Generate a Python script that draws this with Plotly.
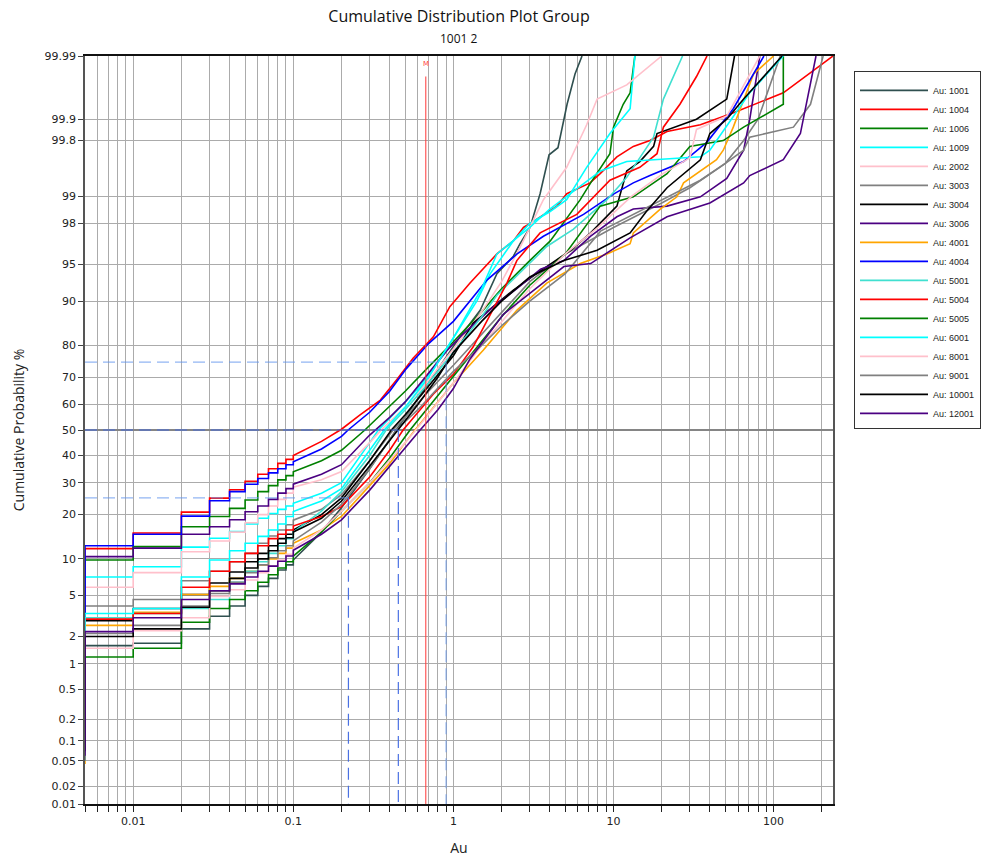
import math
from statistics import NormalDist
import plotly.graph_objects as go

# ---------------- data ----------------
names = ["Au: 1001", "Au: 1004", "Au: 1006", "Au: 1009", "Au: 2002", "Au: 3003",
         "Au: 3004", "Au: 3006", "Au: 4001", "Au: 4004", "Au: 5001", "Au: 5004",
         "Au: 5005", "Au: 6001", "Au: 8001", "Au: 9001", "Au: 10001", "Au: 12001"]
colors = ["#2F4F4F", "#FF0000", "#008000", "#00FFFF", "#FFC0CB", "#808080",
          "#000000", "#4B0082", "#FFA500", "#0000FF", "#40E0D0", "#FF0000",
          "#008000", "#00FFFF", "#FFC0CB", "#808080", "#000000", "#4B0082"]

# discrete low assay values (ties produce the staircase)
low_x = [0.005, 0.01, 0.02, 0.03, 0.04, 0.05, 0.06, 0.07, 0.08, 0.09, 0.1]

# first plotted probability (%) of each series at the lowest value
start_p = [0.2, 0.1, 0.15, 0.1, 0.15, 0.1, 0.056, 0.08, 0.045, 0.08, 0.05, 0.1,
           0.5, 0.1, 0.2, 0.05, 0.07, 0.06]

# cumulative % at each low_x value
low_1001 = [1.6, 1.7, 2.4, 3.2, 4.0, 5.0, 6.0, 7.0, 8.2, 9.0, 9.8]
low_1004 = [11.9, 15.3, 20.7, 24.9, 27.6, 30.5, 33.0, 35.0, 37.0, 38.5, 40.0]
low_1006 = [9.8, 12.3, 16.8, 19.5, 21.8, 24.3, 27.0, 29.0, 31.0, 32.5, 33.9]
low_1009 = [7.2, 8.7, 12.2, 14.1, 15.6, 17.5, 19.0, 20.3, 21.5, 22.5, 23.3]
low_2002 = [5.9, 7.8, 11.3, 13.5, 15.5, 17.8, 20.0, 22.5, 24.5, 26.5, 28.5]
low_3003 = [4.0, 4.6, 6.7, 8.0, 9.5, 11.0, 13.0, 14.6, 16.0, 17.3, 18.5]
low_3004 = [2.9, 3.8, 5.1, 6.4, 7.9, 9.5, 11.0, 12.5, 14.0, 15.0, 16.0]
low_3006 = [10.4, 12.0, 15.0, 16.8, 18.6, 20.8, 22.5, 24.5, 26.5, 28.0, 29.5]
low_4001 = [2.6, 3.5, 5.1, 6.0, 7.0, 8.0, 9.0, 10.0, 11.0, 12.0, 13.0]
low_4004 = [12.5, 15.0, 19.6, 24.1, 27.0, 29.5, 31.5, 33.5, 35.0, 36.5, 37.6]
low_5001 = [3.1, 3.4, 3.8, 4.6, 6.5, 8.0, 9.5, 11.0, 12.5, 14.0, 15.5]
low_5004 = [3.0, 3.4, 5.9, 8.0, 9.5, 11.0, 12.5, 14.0, 15.0, 16.0, 17.0]
low_5005 = [1.2, 1.5, 2.8, 3.8, 4.6, 5.5, 6.5, 7.5, 8.5, 9.5, 10.5]
low_6001 = [3.4, 3.8, 7.2, 9.8, 11.5, 13.0, 14.5, 16.0, 17.5, 19.5, 20.9]
low_8001 = [1.5, 2.3, 3.1, 4.9, 5.6, 6.8, 7.8, 8.8, 9.8, 10.8, 12.0]
low_9001 = [2.15, 2.6, 4.0, 5.2, 6.5, 7.8, 9.0, 10.2, 11.5, 12.5, 13.5]
low_10001 = [2.0, 2.4, 3.9, 5.5, 7.0, 8.5, 10.0, 11.5, 13.0, 14.2, 15.5]
low_12001 = [2.25, 3.1, 4.6, 5.5, 6.3, 7.2, 8.0, 8.8, 9.6, 10.5, 11.6]

# upper part: Au value and cumulative %
x_1001 = [0.15, 0.2, 0.3, 0.42, 0.5, 0.7, 1.1, 1.47, 1.87, 2.37, 2.61, 3.01, 3.48, 3.96, 4.5, 5.13, 5.75, 6.36]
p_1001 = [15.5, 22, 35, 48, 55, 68, 82.3, 88.3, 94.0, 95.8, 96.8, 97.8, 99.06, 99.69, 99.75, 99.94, 99.98, 99.99]
x_1004 = [0.15, 0.2, 0.26, 0.35, 0.44, 0.56, 0.75, 0.95, 1.27, 1.87, 2.37, 2.74, 3.16, 4.43, 5.11, 7.14, 8.26, 10.5, 13.3, 16.9, 21.6, 34.9, 56.2, 115, 235]
p_1004 = [45.5, 50.3, 55.9, 61.7, 69.0, 76.2, 82.3, 89.0, 92.8, 96.0, 97.0, 97.8, 98.1, 98.7, 99.06, 99.3, 99.46, 99.67, 99.76, 99.80, 99.85, 99.88, 99.92, 99.96, 99.99]
x_1006 = [0.15, 0.2, 0.28, 0.35, 0.5, 0.7, 1.0, 1.5, 2.0, 3.0, 4.03, 6.2, 7.2, 9.5, 10.0, 11.5, 12.7, 13.6]
p_1006 = [38, 42, 50, 56, 65, 73.5, 81, 88, 92, 95.4, 97.0, 98.9, 99.3, 99.70, 99.87, 99.94, 99.96, 99.99]
x_1009 = [0.15, 0.2, 0.3, 0.34, 0.45, 0.6, 0.8, 1.0, 1.4, 1.7, 2.37, 3.0, 4.0, 5.1, 6.8, 9.5, 12.7, 13.6]
p_1009 = [26.5, 30, 45, 50, 58, 66, 75, 82, 90, 94, 97.0, 98.0, 98.5, 98.9, 99.55, 99.84, 99.93, 99.99]
x_2002 = [0.15, 0.2, 0.3, 0.36, 0.5, 0.7, 1.0, 1.5, 2.0, 2.6, 3.65, 5.1, 6.8, 7.9, 12.1, 20.0]
p_2002 = [31, 34, 45, 50.5, 59, 69, 79, 88, 93, 96.5, 98.9, 99.55, 99.88, 99.95, 99.97, 99.99]
x_3003 = [0.15, 0.2, 0.3, 0.42, 0.5, 0.7, 1.0, 1.5, 2.0, 3.0, 5.0, 10.0, 20.0, 30.0, 50.0, 65.0, 80.0, 110.0]
p_3003 = [21.5, 26, 38, 50, 55, 65, 74, 83, 88, 93, 96, 97.8, 98.8, 99.2, 99.6, 99.8, 99.9, 99.99]
x_3004 = [0.15, 0.2, 0.3, 0.41, 0.5, 0.7, 1.0, 1.33, 2.37, 3.48, 5.4, 7.2, 10.5, 12.1, 14.6, 17.8, 18.7, 33.0, 51.0, 57.0]
p_3004 = [20, 25, 38, 50, 56, 67, 77, 85.6, 91.8, 94.3, 96.3, 97.5, 98.7, 99.5, 99.62, 99.76, 99.84, 99.9, 99.95, 99.99]
x_3006 = [0.15, 0.2, 0.3, 0.4, 0.5, 0.8, 0.91, 1.15, 1.78, 2.49, 3.5, 4.9, 7.2, 10.5, 13.3, 21.6, 34.9, 51.0, 65.0, 71.0, 82.0]
p_3006 = [33, 36.5, 48, 55, 61, 75, 78.5, 83, 89, 92, 94.5, 95.4, 97.3, 98.3, 98.6, 98.7, 98.98, 99.38, 99.73, 99.9, 99.99]
x_4001 = [0.15, 0.2, 0.3, 0.4, 0.5, 0.576, 0.8, 1.0, 1.54, 2.49, 3.83, 6.2, 9.1, 12.7, 13.3, 19.6, 24.9, 27.4, 44.0, 48.5, 56.0, 65.0, 75.0, 100.0]
p_4001 = [16, 19.5, 29, 37, 45, 50, 61, 68, 78.7, 88.3, 92.8, 95.1, 96.0, 96.8, 97.5, 98.6, 98.98, 99.3, 99.64, 99.73, 99.87, 99.95, 99.98, 99.99]
x_4004 = [0.15, 0.2, 0.22, 0.3, 0.4, 0.51, 0.7, 1.0, 1.62, 2.5, 3.65, 6.5, 10.0, 13.3, 16.9, 27.4, 38.4, 56.0, 87.0]
p_4004 = [42.5, 47.5, 50, 57, 65, 73, 80.5, 86, 93.2, 96.0, 97.3, 98.4, 99.05, 99.3, 99.43, 99.62, 99.79, 99.93, 99.99]
x_5001 = [0.15, 0.2, 0.3, 0.38, 0.5, 0.7, 1.0, 1.5, 1.87, 3.0, 3.83, 5.6, 9.1, 12.1, 17.8, 20.5, 27.0]
p_5001 = [21, 27, 40, 50, 58, 68, 78, 87, 91, 95.2, 96.6, 97.7, 98.9, 99.4, 99.82, 99.95, 99.99]
x_5004 = [0.15, 0.2, 0.3, 0.4, 0.485, 0.75, 1.0, 1.33, 2.16, 2.49, 3.48, 5.9, 9.5, 14.6, 18.7, 20.5, 26.0, 33.0, 38.4]
p_5004 = [19.5, 22.3, 32, 42, 50, 64, 71, 79.6, 92.8, 95.4, 97.5, 98.4, 99.35, 99.55, 99.70, 99.87, 99.94, 99.978, 99.99]
x_5005 = [0.15, 0.2, 0.3, 0.4, 0.536, 0.7, 1.0, 1.5, 2.0, 3.0, 5.0, 8.26, 13.3, 21.6, 30.0, 48.5, 65.0, 115.0, 115.0]
p_5005 = [15.5, 21, 30, 39, 50, 59, 70, 81, 87, 92.5, 96, 98.7, 98.98, 99.46, 99.76, 99.80, 99.87, 99.94, 99.99]
x_6001 = [0.15, 0.2, 0.3, 0.37, 0.5, 0.7, 1.0, 1.5, 1.87, 3.0, 4.0, 5.5, 8.3, 12.1, 21.6, 34.9, 40.0, 56.0, 71.0, 115.0]
p_6001 = [24, 28, 42, 50, 59, 70, 82, 92, 96, 97.8, 98.6, 99.1, 99.5, 99.62, 99.65, 99.67, 99.73, 99.91, 99.96, 99.99]
x_8001 = [0.15, 0.2, 0.3, 0.4, 0.5, 0.6, 0.8, 1.0, 1.5, 2.0, 3.0, 5.0, 8.0, 13.0, 20.0, 30.0, 33.0, 51.0, 82.0]
p_8001 = [16, 21, 30, 38, 45, 51, 61, 68, 80, 86, 92, 96, 97.8, 99.0, 99.45, 99.66, 99.86, 99.91, 99.99]
x_9001 = [0.15, 0.2, 0.3, 0.44, 0.6, 0.8, 1.0, 1.5, 2.0, 3.0, 5.0, 8.3, 13.3, 21.6, 34.9, 51.0, 65.0, 71.0, 133.0, 170.0, 204.0]
p_9001 = [18, 23, 35, 50, 58, 66, 72, 80, 85, 90, 94, 97.6, 98.4, 98.98, 99.35, 99.61, 99.73, 99.82, 99.87, 99.94, 99.99]
x_10001 = [0.15, 0.2, 0.3, 0.45, 0.6, 0.8, 1.0, 1.5, 2.0, 3.0, 4.9, 7.9, 12.7, 16.0, 21.6, 34.9, 40.0, 51.0, 65.0, 113.0]
p_10001 = [19, 24, 36, 50, 60, 70, 78, 86, 90, 93.6, 95.4, 96.3, 97.5, 98.5, 99.2, 99.64, 99.84, 99.9, 99.95, 99.99]
x_12001 = [0.15, 0.2, 0.3, 0.4, 0.5, 0.62, 0.8, 1.0, 1.27, 1.47, 2.05, 3.0, 4.9, 7.2, 12.7, 21.6, 40.0, 65.0, 71.0, 115.0, 147.0, 184.0]
p_12001 = [15, 18.6, 27.5, 36, 43, 50, 58, 66, 76, 80, 87.5, 91.3, 94.8, 95.1, 97.2, 98.3, 98.8, 99.3, 99.43, 99.64, 99.84, 99.99]

low_all = [low_1001, low_1004, low_1006, low_1009, low_2002, low_3003, low_3004, low_3006, low_4001,
           low_4004, low_5001, low_5004, low_5005, low_6001, low_8001, low_9001, low_10001, low_12001]
hx_all = [x_1001, x_1004, x_1006, x_1009, x_2002, x_3003, x_3004, x_3006, x_4001,
          x_4004, x_5001, x_5004, x_5005, x_6001, x_8001, x_9001, x_10001, x_12001]
hp_all = [p_1001, p_1004, p_1006, p_1009, p_2002, p_3003, p_3004, p_3006, p_4001,
          p_4004, p_5001, p_5004, p_5005, p_6001, p_8001, p_9001, p_10001, p_12001]

# probability axis ticks
y_ticks = [0.01, 0.02, 0.05, 0.1, 0.2, 0.5, 1, 2, 5, 10, 20, 30, 40, 50, 60, 70, 80, 90, 95, 98, 99, 99.8, 99.9, 99.99]
y_labels = ["0.01", "0.02", "0.05", "0.1", "0.2", "0.5", "1", "2", "5", "10", "20", "30", "40", "50",
            "60", "70", "80", "90", "95", "98", "99", "99.8", "99.9", "99.99"]
x_ticks = [0.01, 0.1, 1, 10, 100]
x_labels = ["0.01", "0.1", "1", "10", "100"]
x_range = [0.005, 235]

# reference statistics
q_pcts = [25, 50, 75]
q_vals = [0.221, 0.453, 0.90]
mean_val = 0.672
mean_top_p = 99.978

# ---------------- figure ----------------
ND = NormalDist()


def zp(p):
    return ND.inv_cdf(p / 100.0)


ZMIN, ZMAX = zp(0.01), zp(99.99)

fig = go.Figure()

for name, col, p0, low, hx, hp in zip(names, colors, start_p, low_all, hx_all, hp_all):
    X = [low_x[0]]
    P = [p0]
    prev = None
    for xv, pv in zip(low_x, low):
        if prev is not None:
            X.append(xv)
            P.append(prev)
        X.append(xv)
        P.append(pv)
        prev = pv
    X += hx
    P += hp
    fig.add_trace(go.Scatter(x=X, y=[zp(p) for p in P], mode="lines", name=name,
                             line=dict(color=col, width=1.6), hoverinfo="skip"))

# quartile guide lines (horizontal part, vertical part)
light_blue = "rgba(100,149,237,0.7)"
dark_blue = "rgba(65,105,225,0.95)"
h_cols = [light_blue, dark_blue, light_blue]
v_cols = [dark_blue, dark_blue, light_blue]
for qp, qv, hc, vc in zip(q_pcts, q_vals, h_cols, v_cols):
    fig.add_trace(go.Scatter(x=[x_range[0], qv], y=[zp(qp), zp(qp)], mode="lines",
                             line=dict(color=hc, width=1.2, dash="12px,6px"),
                             showlegend=False, hoverinfo="skip"))
    fig.add_trace(go.Scatter(x=[qv, qv], y=[zp(qp), ZMIN], mode="lines",
                             line=dict(color=vc, width=1.2, dash="12px,6px"),
                             showlegend=False, hoverinfo="skip"))
# mean line
fig.add_trace(go.Scatter(x=[mean_val, mean_val], y=[ZMIN, zp(mean_top_p)], mode="lines",
                         line=dict(color="rgba(255,60,60,0.85)", width=1.2),
                         showlegend=False, hoverinfo="skip"))
fig.add_annotation(x=math.log10(mean_val), y=zp(99.9865), xref="x", yref="y", text="M",
                   showarrow=False, font=dict(family="DejaVu Sans", size=7, color="#ff4040"))

minor_x = []
for dec in [0.001, 0.01, 0.1, 1, 10, 100]:
    for k in range(2, 10):
        v = dec * k
        if x_range[0] <= v <= x_range[1] and v not in (0.01, 0.1, 1, 10, 100):
            minor_x.append(v)

grid_col = "#ababab"
fig.update_xaxes(type="log", range=[math.log10(x_range[0]), math.log10(x_range[1])],
                 tickmode="array", tickvals=x_ticks, ticktext=x_labels,
                 ticks="outside", ticklen=6, tickcolor="#222", tickwidth=1,
                 showgrid=True, gridcolor=grid_col, gridwidth=1,
                 minor=dict(tickmode="array", tickvals=minor_x, ticks="outside", ticklen=6,
                            tickcolor="#222", showgrid=True, gridcolor=grid_col, gridwidth=1),
                 showline=True, linecolor="#111", linewidth=1.5, mirror=True,
                 tickfont=dict(family="DejaVu Sans", size=11, color="#222"),
                 title=dict(text="Au", font=dict(family="Open Sans", size=14, color="#222"), standoff=16),
                 automargin=False, zeroline=False)
fig.update_yaxes(range=[ZMIN, ZMAX], tickmode="array", tickvals=[zp(t) for t in y_ticks],
                 ticktext=y_labels, ticks="outside", ticklen=5, tickcolor="#444",
                 showgrid=True, gridcolor=grid_col, gridwidth=1,
                 zeroline=True, zerolinecolor="#858585", zerolinewidth=1.6,
                 showline=True, linecolor="#555", linewidth=1.5, mirror=True,
                 tickfont=dict(family="DejaVu Sans", size=11, color="#222"),
                 title=dict(text="Cumulative Probability %",
                            font=dict(family="Open Sans", size=14, color="#222"), standoff=17),
                 automargin=False)

fig.update_layout(
    width=981, height=858,
    margin=dict(l=85, r=148, t=56, b=54, autoexpand=False),
    paper_bgcolor="white", plot_bgcolor="white",
    title=dict(text="Cumulative Distribution Plot Group", x=0.5, xref="paper", xanchor="center",
               y=1 - 16 / 858, yanchor="middle", font=dict(family="Open Sans", size=16, color="#111")),
    showlegend=True,
    legend=dict(x=1 + 21 / 748, y=1 - 15 / 748, xanchor="left", yanchor="top", bgcolor="white",
                bordercolor="#333", borderwidth=1, itemwidth=68, tracegroupgap=0,
                title=dict(text=" ", font=dict(size=3)),
                font=dict(family="Liberation Sans, Arial", size=9, color="#222")),
)
fig.add_annotation(x=0.5, y=1.0, xref="paper", yref="paper", yshift=18, yanchor="middle",
                   text="1001 2", showarrow=False,
                   font=dict(family="Open Sans", size=12, color="#111"))

fig.write_html("out.html", config={"displayModeBar": False},
               post_script="document.body.style.margin='0px';")
